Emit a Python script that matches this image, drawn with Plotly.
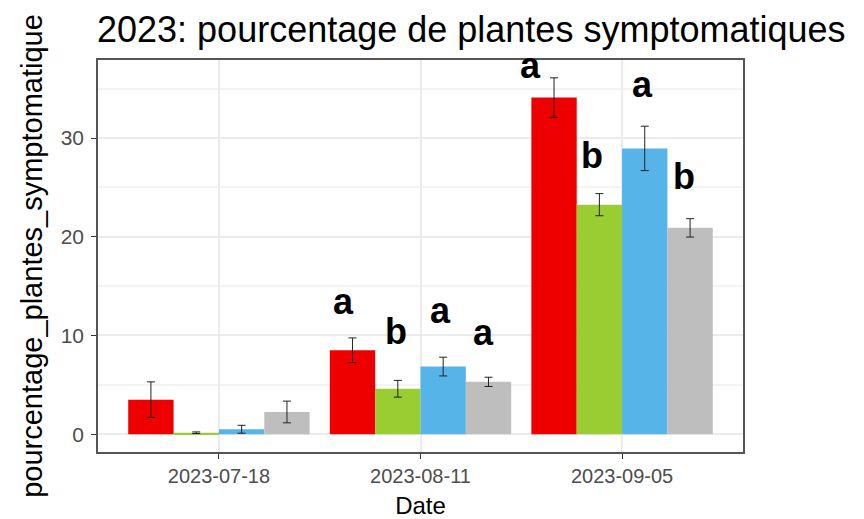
import plotly.graph_objects as go

dates = ["2023-07-18", "2023-08-11", "2023-09-05"]
treatments = ["T1", "T2", "T3", "T4"]
bar_colors = ["#EE0000", "#9ACD32", "#56B4E9", "#BEBEBE"]

# mean % of symptomatic plants per treatment, one value per date
means = [
    [3.5, 8.5, 34.1],
    [0.15, 4.6, 23.25],
    [0.5, 6.85, 28.95],
    [2.25, 5.3, 20.9],
]
# standard errors
errors = [
    [1.8, 1.25, 2.0],
    [0.08, 0.85, 1.12],
    [0.4, 0.95, 2.25],
    [1.1, 0.47, 0.93],
]

# significance letters (only for the last two dates)
letter_text = ["a", "b", "a", "a", "a", "b", "a", "b"]
letter_date = [1, 1, 1, 1, 2, 2, 2, 2]
letter_dx = [-0.382, -0.122, 0.097, 0.315, -0.452, -0.149, 0.099, 0.308]
letter_y = [11.2, 8.1, 10.2, 8.0, 35.1, 26.0, 33.1, 23.8]

fig = go.Figure()
for name, col, m, e in zip(treatments, bar_colors, means, errors):
    fig.add_trace(
        go.Bar(
            x=dates,
            y=m,
            name=name,
            marker_color=col,
            marker_line_width=0,
            error_y=dict(type="data", array=e, color="#222222", thickness=1, width=4),
        )
    )

for t, d, dx, y in zip(letter_text, letter_date, letter_dx, letter_y):
    fig.add_annotation(
        x=d + dx,
        y=y,
        text="<b>%s</b>" % t,
        showarrow=False,
        yanchor="bottom",
        font=dict(family="Liberation Sans", size=36, color="black"),
    )

top = max(m + e for ms, es in zip(means, errors) for m, e in zip(ms, es))
pad = 0.05 * top

# the page body adds an 8px offset, so the figure is 8px smaller
W, H = 856, 511

fig.update_layout(
    width=W,
    height=H,
    barmode="group",
    bargap=0.1,
    bargroupgap=0,
    showlegend=False,
    plot_bgcolor="white",
    paper_bgcolor="white",
    margin=dict(l=90, r=121, t=52, b=67, autoexpand=False),
    font=dict(family="Liberation Sans", color="black"),
    title=dict(
        text="2023: pourcentage de plantes symptomatiques",
        x=89 / W,
        xanchor="left",
        xref="container",
        y=1 - 21 / H,
        yanchor="middle",
        yref="container",
        font=dict(size=36, color="black"),
    ),
    xaxis=dict(
        type="category",
        title=dict(text="Date", font=dict(size=24), standoff=11),
        range=[-0.6, 2.6],
        automargin=False,
        showgrid=True,
        gridcolor="#EBEBEB",
        gridwidth=2,
        showline=True,
        mirror=True,
        linecolor="#555555",
        linewidth=1.5,
        ticks="outside",
        ticklen=5,
        tickcolor="#333333",
        tickfont=dict(size=20, color="#4D4D4D"),
        zeroline=False,
    ),
    yaxis=dict(
        title=dict(text="pourcentage_plantes_symptomatique", font=dict(size=29), standoff=10),
        range=[-pad, top + pad],
        automargin=False,
        tickvals=[0, 10, 20, 30],
        showgrid=True,
        gridcolor="#EBEBEB",
        gridwidth=2,
        minor=dict(dtick=5, tick0=0, showgrid=True, gridcolor="#F3F3F3", gridwidth=1.5),
        showline=True,
        mirror=True,
        linecolor="#555555",
        linewidth=1.5,
        ticks="outside",
        ticklen=5,
        tickcolor="#333333",
        tickfont=dict(size=21, color="#4D4D4D"),
        ticklabelstandoff=3,
        zeroline=False,
    ),
)

fig.write_html("out.html")
